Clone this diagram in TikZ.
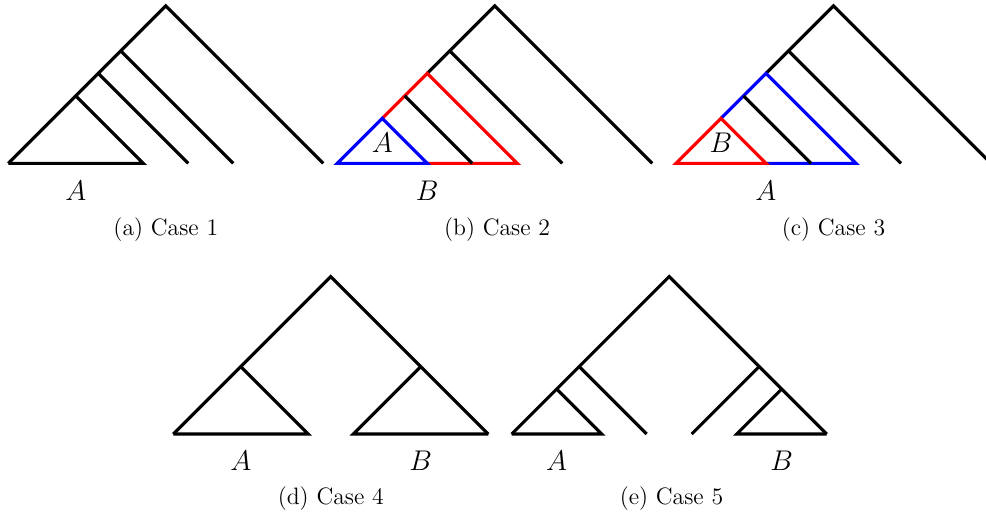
\documentclass[tikz,border=0pt]{standalone}
\usepackage{xcolor}
\usepackage{tikz}
\usetikzlibrary{positioning}
\definecolor{treered}{RGB}{255,0,0}
\definecolor{treeblue}{RGB}{0,0,255}
\tikzset{
  branch/.style={line width=1.6pt, color=black},
  redbranch/.style={line width=1.6pt, color=treered},
  bluebranch/.style={line width=1.6pt, color=treeblue},
  leaf/.style={font=\fontsize{13.5}{16}\selectfont, inner sep=0pt},
  subcap/.style={font=\large, inner sep=0pt}
}
\begin{document}
\begin{tikzpicture}[x=0.4cm, y=0.4cm]
  \useasboundingbox (0,0) rectangle (43.82,-23.07);

  % (a) Case 1
  \begin{scope}[shift={(0.37,-7.26)}, name prefix=a-]
    \coordinate (l) at (0,0);
    \coordinate (n3) at (3,3);
    \coordinate (n4) at (4,4);
    \coordinate (n5) at (5,5);
    \coordinate (top) at (7,7);
    \coordinate (t6) at (6,0);
    \coordinate (t8) at (8,0);
    \coordinate (t10) at (10,0);
    \coordinate (r) at (14,0);
    \draw[branch] (l) -- (top) -- (r);
    \draw[branch] (n3) -- (t6) -- (l);
    \draw[branch] (n4) -- (t8);
    \draw[branch] (n5) -- (t10);
    \node[leaf] (lab) at (3,-1.2) {$A$};
    \node[subcap] (cap) at (7,-2.95) {(a) Case 1};
  \end{scope}

  % (b) Case 2
  \begin{scope}[shift={(14.99,-7.26)}, name prefix=b-]
    \coordinate (l) at (0,0);
    \coordinate (n2) at (2,2);
    \coordinate (n3) at (3,3);
    \coordinate (n4) at (4,4);
    \coordinate (n5) at (5,5);
    \coordinate (top) at (7,7);
    \coordinate (t4) at (4,0);
    \coordinate (t6) at (6,0);
    \coordinate (t8) at (8,0);
    \coordinate (t10) at (10,0);
    \coordinate (r) at (14,0);
    \draw[branch] (n4) -- (top) -- (r);
    \draw[branch] (n5) -- (t10);
    \draw[redbranch] (t4) -- (t8) -- (n4) -- (n2);
    \draw[branch] (n3) -- (t6);
    \draw[bluebranch] (l) -- (n2) -- (t4) -- cycle;
    \node[leaf] (inner) at (2,0.9) {$A$};
    \node[leaf] (lab) at (4,-1.2) {$B$};
    \node[subcap] (cap) at (7.1,-2.95) {(b) Case 2};
  \end{scope}

  % (c) Case 3
  \begin{scope}[shift={(30.04,-7.26)}, name prefix=c-]
    \coordinate (l) at (0,0);
    \coordinate (n2) at (2,2);
    \coordinate (n3) at (3,3);
    \coordinate (n4) at (4,4);
    \coordinate (n5) at (5,5);
    \coordinate (top) at (7,7);
    \coordinate (t4) at (4,0);
    \coordinate (t6) at (6,0);
    \coordinate (t8) at (8,0);
    \coordinate (t10) at (10,0);
    \coordinate (r) at (14,0);
    \draw[branch] (n4) -- (top) -- (r);
    \draw[branch] (n5) -- (t10);
    \draw[bluebranch] (t4) -- (t8) -- (n4) -- (n2);
    \draw[branch] (n3) -- (t6);
    \draw[redbranch] (l) -- (n2) -- (t4) -- cycle;
    \node[leaf] (inner) at (2,0.9) {$B$};
    \node[leaf] (lab) at (4,-1.2) {$A$};
    \node[subcap] (cap) at (7,-2.95) {(c) Case 3};
  \end{scope}

  % (d) Case 4
  \begin{scope}[shift={(7.70,-19.29)}, name prefix=d-]
    \coordinate (l) at (0,0);
    \coordinate (n3) at (3,3);
    \coordinate (top) at (7,7);
    \coordinate (m11) at (11,3);
    \coordinate (t6) at (6,0);
    \coordinate (t8) at (8,0);
    \coordinate (r) at (14,0);
    \draw[branch] (l) -- (top) -- (r);
    \draw[branch] (n3) -- (t6) -- (l);
    \draw[branch] (m11) -- (t8) -- (r);
    \node[leaf] (laba) at (3,-1.2) {$A$};
    \node[leaf] (labb) at (11,-1.2) {$B$};
    \node[subcap] (cap) at (7,-2.85) {(d) Case 4};
  \end{scope}

  % (e) Case 5
  \begin{scope}[shift={(22.74,-19.29)}, name prefix=e-]
    \coordinate (l) at (0,0);
    \coordinate (n2) at (2,2);
    \coordinate (n3) at (3,3);
    \coordinate (top) at (7,7);
    \coordinate (m11) at (11,3);
    \coordinate (m12) at (12,2);
    \coordinate (t4) at (4,0);
    \coordinate (t6) at (6,0);
    \coordinate (t8) at (8,0);
    \coordinate (t10) at (10,0);
    \coordinate (r) at (14,0);
    \draw[branch] (l) -- (top) -- (r);
    \draw[branch] (n2) -- (t4) -- (l);
    \draw[branch] (n3) -- (t6);
    \draw[branch] (m11) -- (t8);
    \draw[branch] (m12) -- (t10) -- (r);
    \node[leaf] (laba) at (2,-1.2) {$A$};
    \node[leaf] (labb) at (12,-1.2) {$B$};
    \node[subcap] (cap) at (7.1,-2.85) {(e) Case 5};
  \end{scope}
\end{tikzpicture}
\end{document}
